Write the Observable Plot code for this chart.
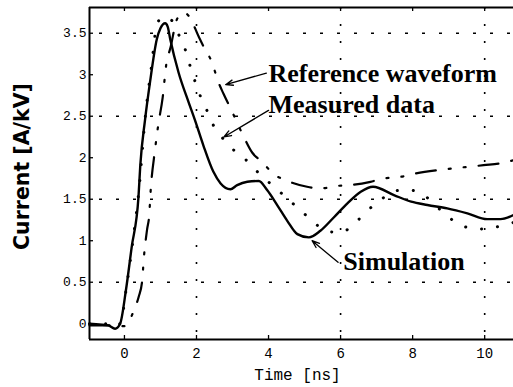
<!DOCTYPE html>
<html>
<head>
<meta charset="utf-8">
<script src="https://cdn.jsdelivr.net/npm/d3@7"></script>
<script src="https://cdn.jsdelivr.net/npm/@observablehq/plot@0.6"></script>
<style>
  html, body { margin: 0; padding: 0; background: #fff; }
  #chart svg { display: block; }
</style>
</head>
<body>
<div id="chart"></div>
<script>
// ---- data ----
const simX = [-0.97, -0.7, -0.45, -0.26, -0.12, 0.04, 0.2, 0.39, 0.44, 0.57, 0.71, 0.9, 1.0, 1.13, 1.2, 1.27, 1.5, 1.78, 1.96, 2.19, 2.47, 2.67, 2.94, 3.13, 3.41, 3.73, 3.96, 4.24, 4.52, 4.80, 5.12, 5.44, 5.81, 6.19, 6.56, 6.9, 7.48, 7.96, 8.41, 8.96, 9.52, 10.07, 10.44, 10.8];
const simY = [0.0, -0.01, -0.02, -0.06, 0.0, 0.4, 0.92, 1.53, 1.91, 2.45, 2.91, 3.43, 3.56, 3.62, 3.58, 3.43, 3.03, 2.67, 2.45, 2.15, 1.83, 1.69, 1.62, 1.67, 1.71, 1.72, 1.61, 1.43, 1.24, 1.08, 1.04, 1.12, 1.28, 1.45, 1.59, 1.65, 1.55, 1.47, 1.43, 1.39, 1.33, 1.26, 1.26, 1.31];

const measX = [-0.97, -0.5, -0.25, -0.1, 0.05, 0.22, 0.4, 0.58, 0.75, 0.91, 1.1, 1.3, 1.5, 1.69, 1.82, 2.1, 2.29, 2.47, 2.7, 2.99, 3.36, 3.67, 4.31, 4.98, 5.31, 5.68, 6.0, 6.46, 6.79, 7.11, 7.48, 7.9, 8.31, 8.65, 8.98, 9.38, 9.84, 10.26, 10.8];
const measY = [0.0, 0.0, -0.04, 0.02, 0.42, 0.95, 1.6, 2.5, 3.1, 3.62, 3.7, 3.66, 3.49, 3.30, 3.11, 2.75, 2.57, 2.39, 2.25, 2.11, 1.98, 1.84, 1.59, 1.33, 1.20, 1.11, 1.10, 1.24, 1.38, 1.49, 1.60, 1.61, 1.55, 1.42, 1.29, 1.18, 1.14, 1.16, 1.22];

const refX = [-0.97, -0.2, 0.0, 0.13, 0.26, 0.4, 0.49, 0.54, 0.63, 0.69, 0.72, 0.85, 0.94, 1.06, 1.16, 1.28, 1.46, 1.65, 1.8, 2.06, 2.23, 2.42, 2.6, 2.75, 2.94, 3.27, 3.55, 3.82, 4.15, 4.47, 5.07, 5.44, 5.89, 6.28, 6.83, 7.2, 7.67, 8.08, 8.69, 9.1, 9.52, 9.97, 10.53, 10.8];
const refY = [-0.02, -0.02, -0.03, 0.03, 0.16, 0.33, 0.51, 0.8, 1.14, 1.32, 1.55, 2.1, 2.4, 2.72, 3.12, 3.33, 3.67, 3.75, 3.70, 3.46, 3.31, 3.16, 2.92, 2.77, 2.6, 2.29, 2.06, 1.95, 1.80, 1.73, 1.65, 1.63, 1.66, 1.67, 1.71, 1.75, 1.77, 1.81, 1.85, 1.87, 1.89, 1.91, 1.94, 1.97];

const xTicks = [0, 2, 4, 6, 8, 10];
const yTicks = [0, 0.5, 1, 1.5, 2, 2.5, 3, 3.5];
const xGrid = [2, 6, 10];
const yGrid = [0.5, 1.5, 2.5, 3.5];
const xDomain = [-0.97, 10.8];
const yDomain = [-0.19, 3.81];

const labelNames = ["Reference waveform", "Measured data", "Simulation"];
const labelX = [4.0, 4.0, 6.075];
const labelY = [3.016, 2.642, 0.743];
const arrowX1 = [3.94, 4.0, 5.93];
const arrowY1 = [3.02, 2.57, 0.74];
const arrowX2 = [2.81, 2.76, 5.21];
const arrowY2 = [2.88, 2.25, 1.0];

const xLabel = "Time [ns]";
const yLabel = "Current [A/kV]";

// ---- tables built from the arrays ----
const sim = simX.map((x, i) => ({x, y: simY[i]}));
const meas = measX.map((x, i) => ({x, y: measY[i]}));
const ref = refX.map((x, i) => ({x, y: refY[i]}));
const labels = labelNames.map((t, i) => ({t, x: labelX[i], y: labelY[i]}));
const arrows = arrowX1.map((x1, i) => ({x1, y1: arrowY1[i], x2: arrowX2[i], y2: arrowY2[i]}));

const W = 513, H = 387;
const mL = 89, mR = 0, mT = 7, mB = 48;
const innerW = W - mL - mR, innerH = H - mT - mB;
const mono = "'Liberation Mono', 'Courier New', monospace";

const chart = Plot.plot({
  width: W,
  height: H,
  marginLeft: mL,
  marginRight: mR,
  marginTop: mT,
  marginBottom: mB,
  style: {background: "#fff", color: "#000", overflow: "visible"},
  x: {domain: xDomain, axis: null},
  y: {domain: yDomain, axis: null},
  marks: [
    // grid
    Plot.ruleX(xGrid, {stroke: "#000", strokeWidth: 1.6, strokeDasharray: "2,15"}),
    Plot.ruleY(yGrid, {stroke: "#000", strokeWidth: 1.6, strokeDasharray: "3,14", strokeDashoffset: -10}),
    // axis lines (left, bottom, top)
    Plot.ruleX([xDomain[0]], {stroke: "#000", strokeWidth: 2}),
    Plot.ruleY(yDomain, {stroke: "#000", strokeWidth: 2}),
    // inward ticks
    Plot.tickX(xTicks, {stroke: "#000", strokeWidth: 1.3, insetTop: innerH - 4}),
    Plot.tickX(xTicks, {stroke: "#000", strokeWidth: 1.3, insetBottom: innerH - 4}),
    Plot.tickY(yTicks, {stroke: "#000", strokeWidth: 1.3, insetRight: innerW - 4}),
    // tick labels
    Plot.axisX(xTicks, {tickSize: 0, tickPadding: 9, fontSize: 14, fontFamily: mono, label: null, tickFormat: d => String(d)}),
    Plot.axisY(yTicks, {tickSize: 0, tickPadding: 3, fontSize: 13, fontFamily: mono, label: null, tickFormat: d => String(d)}),
    // curves
    Plot.line(ref, {x: "x", y: "y", curve: "monotone-x", stroke: "#000", strokeWidth: 2.2, strokeDasharray: "20,13,2,13,2,13"}),
    Plot.line(meas, {x: "x", y: "y", curve: "monotone-x", stroke: "#000", strokeWidth: 3, strokeDasharray: "0.1,16", strokeLinecap: "round"}),
    Plot.line(sim, {x: "x", y: "y", curve: "monotone-x", stroke: "#000", strokeWidth: 2.4}),
    // annotations
    Plot.arrow(arrows, {x1: "x1", y1: "y1", x2: "x2", y2: "y2", stroke: "#000", strokeWidth: 1.3, headLength: 9, headAngle: 40}),
    Plot.text(labels, {x: "x", y: "y", text: "t", textAnchor: "start", lineAnchor: "middle", fontFamily: "'Liberation Serif', 'Times New Roman', serif", fontWeight: "bold", fontSize: 26, fill: "#000"}),
    // axis titles
    Plot.text([xLabel], {frameAnchor: "bottom", dy: 35, dx: -4, textAnchor: "middle", lineAnchor: "middle", fontFamily: mono, fontSize: 16, fill: "#000"}),
    Plot.text([yLabel], {frameAnchor: "left", rotate: -90, dx: -67, dy: -7, textAnchor: "middle", lineAnchor: "middle", fontFamily: "'DejaVu Sans', sans-serif", fontWeight: "bold", fontSize: 20.5, fill: "#000"})
  ]
});

document.getElementById("chart").appendChild(chart);
</script>
</body>
</html>
